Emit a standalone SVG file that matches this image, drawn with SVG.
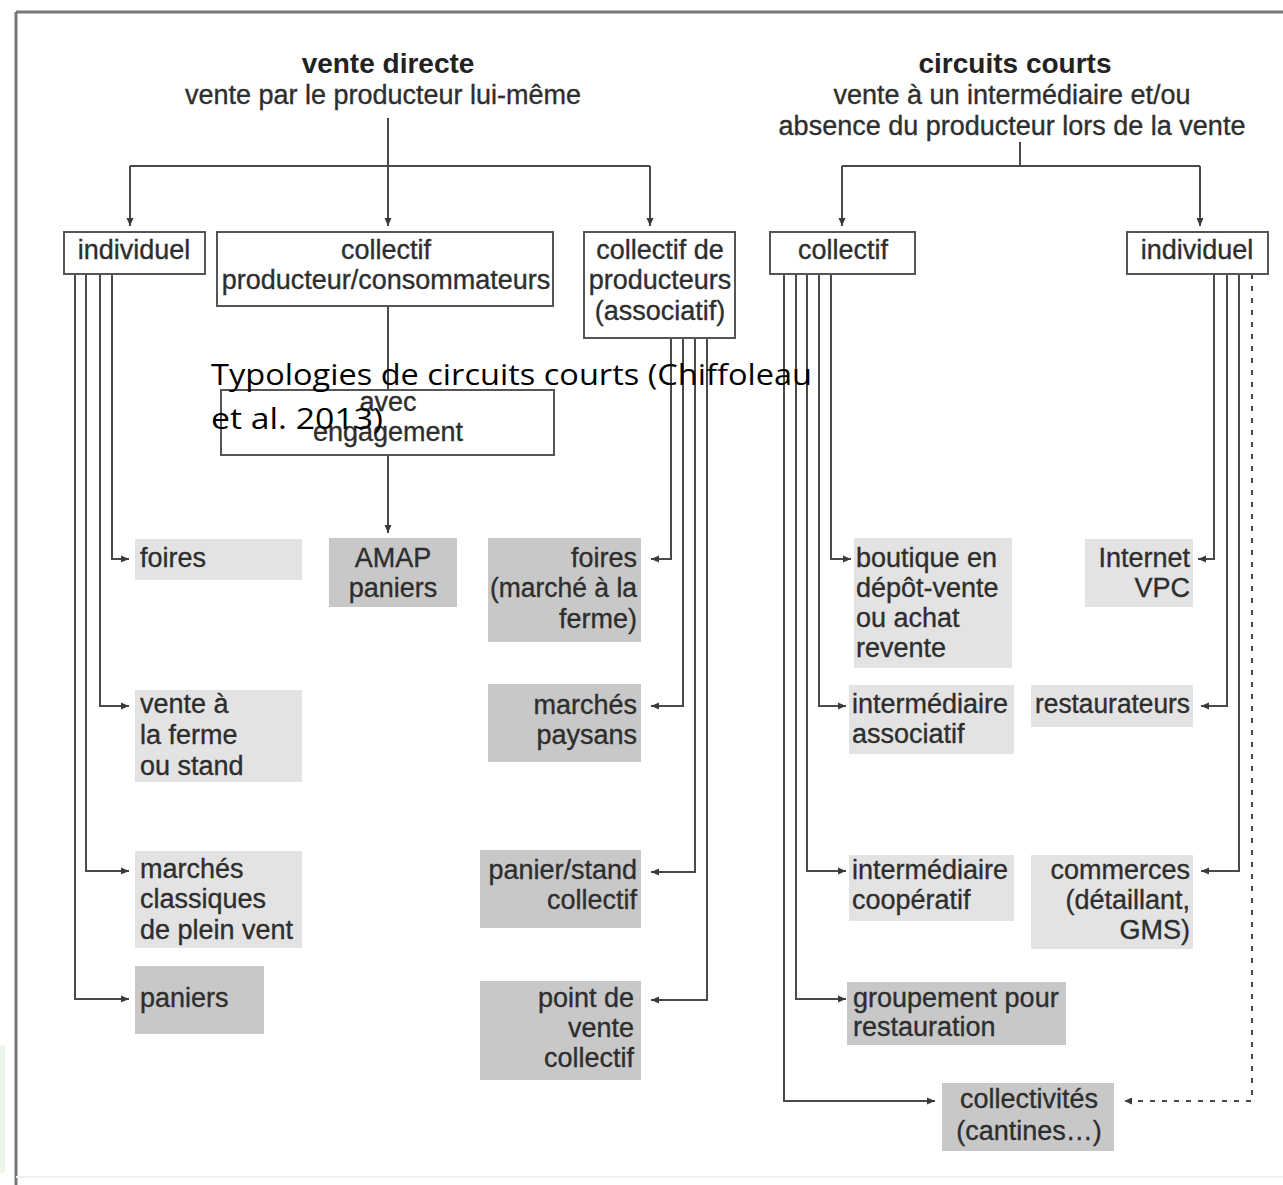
<svg xmlns="http://www.w3.org/2000/svg" width="1283" height="1185" viewBox="0 0 1283 1185">
<style>
.t{font-family:"Liberation Sans",Arial,sans-serif;font-size:27px;fill:#2e2e2e;stroke:#2e2e2e;stroke-width:0.35}
.b{font-family:"Liberation Sans",Arial,sans-serif;font-size:28px;font-weight:bold;fill:#222}
.m{text-anchor:middle}
.e{text-anchor:end}
.box{fill:#fff;stroke:#555;stroke-width:2}
.lt{fill:#e3e3e3}
.dk{fill:#c8c8c8}
.c{fill:none;stroke:#4a4a4a;stroke-width:2}
.a{marker-end:url(#ah)}
.d{stroke-dasharray:5 7}
.ov{font-family:"Open Sans","Noto Sans",sans-serif;font-size:30px;fill:#000}
</style>
<defs>
<marker id="ah" markerUnits="userSpaceOnUse" markerWidth="9" markerHeight="8" refX="8" refY="4" orient="auto">
<path d="M0,0.5 L8,4 L0,7.5 z" fill="#3a3a3a"/>
</marker>
</defs>
<rect x="0" y="0" width="1283" height="1185" fill="#fff"/>
<rect x="0" y="1045" width="5" height="128" fill="#eef6ea"/>
<g id="frame">
<path d="M16,12 H1283" fill="none" stroke="#777" stroke-width="3"/>
<path d="M16,12 V1185" fill="none" stroke="#777" stroke-width="3"/>
<path d="M16,1177 H1283" fill="none" stroke="#f0f0f0" stroke-width="2"/>
</g>
<g id="title-left">
<text class="b m" x="388" y="73">vente directe</text>
<text class="t m" x="383" y="104">vente par le producteur lui-même</text>
</g>
<g id="title-right">
<text class="b m" x="1015" y="73">circuits courts</text>
<text class="t m" x="1012" y="104">vente à un intermédiaire et/ou</text>
<text class="t m" x="1012" y="135">absence du producteur lors de la vente</text>
</g>
<g id="connectors">
<path class="c a" d="M388,118 V226"/>
<path class="c" d="M130,166 H650"/>
<path class="c a" d="M130,166 V226"/>
<path class="c a" d="M650,166 V226"/>
<path class="c" d="M1020,142 V166"/>
<path class="c" d="M842,166 H1200"/>
<path class="c a" d="M842,166 V226"/>
<path class="c a" d="M1200,166 V226"/>
<path class="c" d="M388,306 V390"/>
<path class="c a" d="M388,455 V533"/>
<path class="c a" d="M112,274 V559 H129"/>
<path class="c a" d="M100,274 V706 H129"/>
<path class="c a" d="M86,274 V871 H129"/>
<path class="c a" d="M75,274 V999 H129"/>
<path class="c a" d="M671,338 V559 H651"/>
<path class="c a" d="M683,338 V706 H651"/>
<path class="c a" d="M695,338 V872 H651"/>
<path class="c a" d="M707,338 V1000 H651"/>
<path class="c a" d="M831,274 V559 H851"/>
<path class="c a" d="M819,274 V706 H846"/>
<path class="c a" d="M807,274 V871 H846"/>
<path class="c a" d="M796,274 V999 H846"/>
<path class="c a" d="M784,274 V1101 H935"/>
<path class="c a" d="M1214,274 V559 H1198"/>
<path class="c a" d="M1227,274 V706 H1201"/>
<path class="c a" d="M1239,274 V871 H1201"/>
<path class="c a d" d="M1252,274 V1101 H1124"/>
</g>
<g id="n-individuel-vd">
<rect class="box" x="64" y="232" width="141" height="42"/>
<text class="t m" x="134" y="259">individuel</text>
</g>
<g id="n-collectif-pc">
<rect class="box" x="217" y="232" width="336" height="74"/>
<text class="t m" x="386" y="259">collectif</text>
<text class="t m" x="386" y="289">producteur/consommateurs</text>
</g>
<g id="n-collectif-prod">
<rect class="box" x="584" y="232" width="151" height="106"/>
<text class="t m" x="660" y="259">collectif de</text>
<text class="t m" x="660" y="289">producteurs</text>
<text class="t m" x="660" y="320">(associatif)</text>
</g>
<g id="n-avec-engagement">
<rect class="box" x="221" y="390" width="333" height="65"/>
<text class="t m" x="388" y="411">avec</text>
<text class="t m" x="388" y="441">engagement</text>
</g>
<g id="n-collectif-cc">
<rect class="box" x="770" y="232" width="145" height="42"/>
<text class="t m" x="843" y="259">collectif</text>
</g>
<g id="n-individuel-cc">
<rect class="box" x="1127" y="232" width="141" height="42"/>
<text class="t m" x="1197" y="259">individuel</text>
</g>
<g id="n-foires">
<rect class="lt" x="135" y="539" width="167" height="41"/>
<text class="t" x="140" y="567">foires</text>
</g>
<g id="n-vente-ferme">
<rect class="lt" x="135" y="690" width="167" height="92"/>
<text class="t" x="140" y="713">vente à</text>
<text class="t" x="140" y="744">la ferme</text>
<text class="t" x="140" y="775">ou stand</text>
</g>
<g id="n-marches-classiques">
<rect class="lt" x="135" y="851" width="167" height="97"/>
<text class="t" x="140" y="878">marchés</text>
<text class="t" x="140" y="908">classiques</text>
<text class="t" x="140" y="939">de plein vent</text>
</g>
<g id="n-paniers">
<rect class="dk" x="135" y="966" width="129" height="68"/>
<text class="t" x="140" y="1007">paniers</text>
</g>
<g id="n-amap">
<rect class="dk" x="329" y="538" width="128" height="69"/>
<text class="t m" x="393" y="567">AMAP</text>
<text class="t m" x="393" y="597">paniers</text>
</g>
<g id="n-foires-ferme">
<rect class="dk" x="488" y="538" width="153" height="104"/>
<text class="t e" x="637" y="567">foires</text>
<text class="t e" x="637" y="597" textLength="147" lengthAdjust="spacingAndGlyphs">(marché à la</text>
<text class="t e" x="637" y="628">ferme)</text>
</g>
<g id="n-marches-paysans">
<rect class="dk" x="488" y="684" width="153" height="78"/>
<text class="t e" x="637" y="714">marchés</text>
<text class="t e" x="637" y="744">paysans</text>
</g>
<g id="n-panier-stand">
<rect class="dk" x="480" y="850" width="161" height="78"/>
<text class="t e" x="637" y="879">panier/stand</text>
<text class="t e" x="637" y="909">collectif</text>
</g>
<g id="n-point-vente">
<rect class="dk" x="480" y="981" width="161" height="99"/>
<text class="t e" x="634" y="1007">point de</text>
<text class="t e" x="634" y="1037">vente</text>
<text class="t e" x="634" y="1067">collectif</text>
</g>
<g id="n-boutique">
<rect class="lt" x="854" y="538" width="158" height="130"/>
<text class="t" x="856" y="567">boutique en</text>
<text class="t" x="856" y="597">dépôt-vente</text>
<text class="t" x="856" y="627">ou achat</text>
<text class="t" x="856" y="657">revente</text>
</g>
<g id="n-internet">
<rect class="lt" x="1085" y="539" width="108" height="68"/>
<text class="t e" x="1190" y="567">Internet</text>
<text class="t e" x="1190" y="597">VPC</text>
</g>
<g id="n-inter-asso">
<rect class="lt" x="849" y="685" width="165" height="69"/>
<text class="t" x="852" y="713">intermédiaire</text>
<text class="t" x="852" y="743">associatif</text>
</g>
<g id="n-restaurateurs">
<rect class="lt" x="1031" y="685" width="162" height="42"/>
<text class="t e" x="1190" y="713" textLength="155" lengthAdjust="spacingAndGlyphs">restaurateurs</text>
</g>
<g id="n-inter-coop">
<rect class="lt" x="849" y="855" width="165" height="66"/>
<text class="t" x="852" y="879">intermédiaire</text>
<text class="t" x="852" y="909">coopératif</text>
</g>
<g id="n-commerces">
<rect class="lt" x="1031" y="855" width="162" height="94"/>
<text class="t e" x="1190" y="879">commerces</text>
<text class="t e" x="1190" y="909">(détaillant,</text>
<text class="t e" x="1190" y="939">GMS)</text>
</g>
<g id="n-groupement">
<rect class="dk" x="847" y="982" width="219" height="63"/>
<text class="t" x="853" y="1007">groupement pour</text>
<text class="t" x="853" y="1036">restauration</text>
</g>
<g id="n-collectivites">
<rect class="dk" x="942" y="1083" width="172" height="68"/>
<text class="t m" x="1029" y="1108">collectivités</text>
<text class="t m" x="1029" y="1140">(cantines…)</text>
</g>
<g id="caption">
<text class="ov" x="211" y="385" textLength="601" lengthAdjust="spacingAndGlyphs">Typologies de circuits courts (Chiffoleau</text>
<text class="ov" x="211" y="429" textLength="172" lengthAdjust="spacingAndGlyphs">et al. 2013)</text>
</g>
</svg>
